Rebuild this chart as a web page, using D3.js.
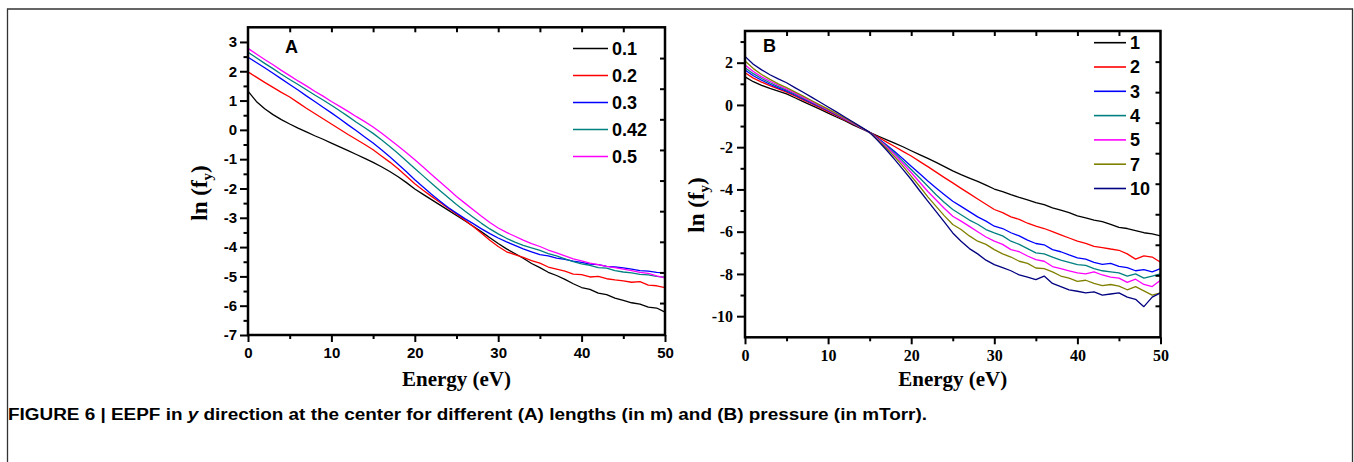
<!DOCTYPE html>
<html>
<head>
<meta charset="utf-8">
<script src="https://cdn.jsdelivr.net/npm/d3@7"></script>
<style>
  html, body { margin: 0; padding: 0; background: #fff; }
  svg { display: block; }
</style>
</head>
<body>
<svg id="chart" width="1354" height="462"></svg>
<script>
// energy grid, eV
const energy = d3.range(0, 51);

// (A) different lengths, m
const lengthNames = ["0.1", "0.2", "0.3", "0.42", "0.5"];
const lengthColors = ["#000000", "#ff0000", "#0000ff", "#008080", "#ff00ff"];
const lnA_01 = [1.32, 0.97, 0.72, 0.52, 0.35, 0.2, 0.06, -0.07, -0.2, -0.32, -0.45,
  -0.58, -0.71, -0.84, -0.97, -1.11, -1.26, -1.42, -1.6, -1.8, -2.02,
  -2.2, -2.38, -2.56, -2.74, -2.92, -3.1, -3.29, -3.48, -3.68, -3.88,
  -4.06, -4.22, -4.38, -4.56, -4.7, -4.86, -4.97, -5.1, -5.25, -5.38,
  -5.44, -5.57, -5.62, -5.74, -5.82, -5.9, -5.95, -6.05, -6.08, -6.22];
const lnA_02 = [1.98, 1.8, 1.62, 1.45, 1.28, 1.12, 0.93, 0.74, 0.56, 0.38, 0.2,
  0.02, -0.16, -0.33, -0.5, -0.68, -0.89, -1.1, -1.33, -1.58, -1.84,
  -2.06, -2.27, -2.47, -2.67, -2.87, -3.08, -3.3, -3.53, -3.77, -3.98,
  -4.16, -4.26, -4.35, -4.46, -4.55, -4.68, -4.75, -4.82, -4.92, -4.94,
  -5.02, -5.0, -5.08, -5.12, -5.15, -5.2, -5.18, -5.3, -5.32, -5.38];
const lnA_03 = [2.48, 2.3, 2.12, 1.93, 1.74, 1.55, 1.36, 1.16, 0.97, 0.77, 0.58,
  0.38, 0.17, -0.03, -0.24, -0.45, -0.68, -0.92, -1.17, -1.43, -1.7,
  -1.95, -2.2, -2.43, -2.65, -2.84, -3.03, -3.2, -3.38, -3.54, -3.69,
  -3.82, -3.94, -4.06, -4.16, -4.26, -4.3, -4.38, -4.42, -4.48, -4.52,
  -4.58, -4.6, -4.66, -4.68, -4.71, -4.75, -4.8, -4.82, -4.86, -4.88];
const lnA_042 = [2.65, 2.46, 2.27, 2.09, 1.9, 1.72, 1.55, 1.37, 1.19, 1.02, 0.84,
  0.65, 0.46, 0.26, 0.07, -0.12, -0.34, -0.57, -0.81, -1.06, -1.32,
  -1.57, -1.82, -2.07, -2.31, -2.55, -2.77, -2.98, -3.19, -3.38, -3.55,
  -3.7, -3.83, -3.94, -4.03, -4.11, -4.22, -4.3, -4.4, -4.5, -4.57,
  -4.62, -4.7, -4.72, -4.8, -4.85, -4.88, -4.93, -4.95, -5.0, -5.03];
const lnA_05 = [2.78, 2.59, 2.4, 2.22, 2.03, 1.85, 1.67, 1.5, 1.32, 1.15, 0.97,
  0.8, 0.63, 0.45, 0.28, 0.1, -0.11, -0.33, -0.55, -0.78, -1.02,
  -1.27, -1.52, -1.77, -2.02, -2.27, -2.5, -2.73, -2.95, -3.16, -3.35,
  -3.5, -3.63, -3.76, -3.88, -3.98, -4.1, -4.2, -4.3, -4.4, -4.47,
  -4.55, -4.6, -4.66, -4.7, -4.75, -4.8, -4.86, -4.9, -4.98, -5.05];

// (B) different pressures, mTorr
const pressureNames = ["1", "2", "3", "4", "5", "7", "10"];
const pressureColors = ["#000000", "#ff0000", "#0000ff", "#008080", "#ff00ff", "#808000", "#000080"];
const lnB_1 = [1.33, 1.1, 0.93, 0.78, 0.65, 0.52, 0.34, 0.16, -0.02, -0.2, -0.39,
  -0.57, -0.75, -0.94, -1.12, -1.3, -1.47, -1.64, -1.81, -1.98, -2.17,
  -2.35, -2.53, -2.72, -2.92, -3.12, -3.3, -3.46, -3.62, -3.8, -3.98,
  -4.1, -4.25, -4.38, -4.5, -4.62, -4.72, -4.87, -4.98, -5.1, -5.25,
  -5.35, -5.45, -5.52, -5.65, -5.8, -5.85, -5.95, -6.05, -6.1, -6.2];
const lnB_2 = [1.52, 1.27, 1.08, 0.91, 0.76, 0.61, 0.43, 0.24, 0.06, -0.13, -0.32,
  -0.51, -0.71, -0.9, -1.1, -1.3, -1.52, -1.75, -1.97, -2.2, -2.42,
  -2.67, -2.92, -3.18, -3.44, -3.69, -3.95, -4.2, -4.45, -4.7, -4.95,
  -5.1, -5.3, -5.42, -5.6, -5.74, -5.85, -6.0, -6.15, -6.3, -6.45,
  -6.55, -6.7, -6.75, -6.82, -6.88, -7.05, -7.3, -7.15, -7.2, -7.45];
const lnB_3 = [1.65, 1.38, 1.17, 0.98, 0.81, 0.65, 0.47, 0.28, 0.1, -0.08, -0.27,
  -0.47, -0.67, -0.88, -1.09, -1.3, -1.58, -1.88, -2.2, -2.55, -2.9,
  -3.25, -3.6, -3.93, -4.25, -4.56, -4.8, -5.05, -5.3, -5.5, -5.74,
  -5.85, -6.05, -6.2, -6.4, -6.56, -6.62, -6.85, -6.95, -7.1, -7.24,
  -7.3, -7.45, -7.55, -7.5, -7.64, -7.7, -7.85, -7.8, -7.9, -7.75];
const lnB_4 = [1.76, 1.48, 1.25, 1.05, 0.87, 0.7, 0.51, 0.32, 0.13, -0.06, -0.25,
  -0.45, -0.66, -0.87, -1.08, -1.3, -1.6, -1.92, -2.28, -2.66, -3.06,
  -3.45, -3.85, -4.25, -4.62, -4.95, -5.2, -5.45, -5.65, -5.9, -6.06,
  -6.2, -6.45, -6.6, -6.8, -7.0, -7.05, -7.2, -7.35, -7.45, -7.56,
  -7.6, -7.75, -7.85, -7.9, -7.95, -8.1, -8.0, -8.2, -8.1, -8.0];
const lnB_5 = [1.89, 1.58, 1.33, 1.12, 0.93, 0.75, 0.56, 0.36, 0.16, -0.04, -0.24,
  -0.44, -0.65, -0.86, -1.08, -1.3, -1.62, -1.97, -2.35, -2.77, -3.2,
  -3.65, -4.1, -4.5, -4.9, -5.27, -5.5, -5.75, -6.0, -6.25, -6.45,
  -6.6, -6.85, -6.95, -7.15, -7.32, -7.4, -7.65, -7.75, -7.85, -7.95,
  -8.0, -7.9, -8.05, -8.15, -8.2, -8.4, -8.25, -8.5, -8.6, -8.3];
const lnB_7 = [2.08, 1.72, 1.44, 1.21, 1.0, 0.82, 0.62, 0.42, 0.21, 0.0, -0.2,
  -0.41, -0.62, -0.84, -1.07, -1.3, -1.66, -2.04, -2.45, -2.9, -3.37,
  -3.85, -4.35, -4.8, -5.25, -5.66, -5.9, -6.2, -6.45, -6.6, -6.85,
  -7.05, -7.2, -7.4, -7.5, -7.72, -7.75, -7.9, -8.1, -8.2, -8.35,
  -8.3, -8.45, -8.55, -8.5, -8.58, -8.75, -8.6, -8.8, -9.0, -8.9];
const lnB_10 = [2.3, 1.93, 1.66, 1.43, 1.23, 1.05, 0.82, 0.6, 0.37, 0.14, -0.1,
  -0.33, -0.57, -0.81, -1.05, -1.3, -1.7, -2.12, -2.58, -3.05, -3.53,
  -4.05, -4.55, -5.05, -5.55, -6.06, -6.45, -6.8, -7.05, -7.35, -7.56,
  -7.7, -7.85, -8.05, -8.15, -8.27, -8.1, -8.45, -8.6, -8.75, -8.82,
  -8.9, -8.85, -9.0, -8.95, -8.9, -9.1, -9.2, -9.55, -9.1, -8.9];

// tick values
const energyTicks = [0, 10, 20, 30, 40, 50];
const energyMinor = [5, 15, 25, 35, 45];
const energyTop = [5, 10, 15, 20, 25, 30, 35, 40, 45];
const yTicksA = [-7, -6, -5, -4, -3, -2, -1, 0, 1, 2, 3];
const yMinorA = [-6.5, -5.5, -4.5, -3.5, -2.5, -1.5, -0.5, 0.5, 1.5, 2.5];
const yTicksB = [-10, -8, -6, -4, -2, 0, 2];
const yMinorB = [-9, -7, -5, -3, -1, 1, 3];

const svg = d3.select('#chart');
const SANS = '"Liberation Sans", Arial, sans-serif';
const SERIF = '"Liberation Serif", "Times New Roman", serif';

// outer figure frame
svg.append('path')
    .attr('d', 'M7.5,462 V9 H1352.5 V462')
    .attr('fill', 'none')
    .attr('stroke', '#333')
    .attr('stroke-width', 1.3);

function drawPanel(p) {
    const x = d3.scaleLinear().domain([0, 50]).range([p.left, p.right]);
    const y = d3.scaleLinear().domain(p.yDomain).range([p.bottom, p.top]);
    const g = svg.append('g');

    // curves
    const line = d3.line().x((d, i) => x(energy[i])).y(d => y(d));
    p.series.forEach((s, i) => {
        g.append('path')
            .attr('d', line(s))
            .attr('fill', 'none')
            .attr('stroke', p.colors[i])
            .attr('stroke-width', 1.3)
            .attr('stroke-linejoin', 'round');
    });

    // axes
    const fmt = d => String(d);
    const axes = [
        [d3.axisLeft(y).tickValues(p.yTicks).tickSize(8).tickPadding(p.yPad).tickFormat(fmt), `translate(${p.left},0)`],
        [d3.axisLeft(y).tickValues(p.yMinor).tickSize(4.5).tickFormat(''), `translate(${p.left},0)`],
        [d3.axisBottom(x).tickValues(energyTicks).tickSize(7).tickPadding(5).tickFormat(fmt), `translate(0,${p.bottom})`],
        [d3.axisBottom(x).tickValues(energyMinor).tickSize(4).tickFormat(''), `translate(0,${p.bottom})`],
        [d3.axisTop(x).tickValues(energyTop).tickSize(-5).tickFormat(''), `translate(0,${p.top})`],
        [d3.axisRight(y).tickValues(p.rightTicks).tickSize(-5).tickFormat(''), `translate(${p.right},0)`]
    ];
    axes.forEach(([ax, tr]) => {
        const a = g.append('g').attr('transform', tr).call(ax);
        a.select('.domain').remove();
        a.selectAll('line').attr('stroke', '#000').attr('stroke-width', 2);
        a.selectAll('text')
            .attr('fill', '#000')
            .style('font-family', p.tickFont)
            .style('font-weight', 'bold')
            .style('font-size', p.tickSize + 'px');
    });

    // plot frame
    g.append('rect')
        .attr('x', p.left).attr('y', p.top)
        .attr('width', p.right - p.left).attr('height', p.bottom - p.top)
        .attr('fill', 'none').attr('stroke', '#000').attr('stroke-width', 2.5);

    // axis titles
    g.append('text')
        .attr('x', (p.left + p.right) / 2).attr('y', 386)
        .attr('text-anchor', 'middle')
        .style('font-family', SERIF).style('font-weight', 'bold').style('font-size', '21px')
        .text('Energy (eV)');

    const yt = g.append('text')
        .attr('transform', `translate(${p.yTitleX},${p.yTitleY}) rotate(-90)`)
        .attr('text-anchor', 'middle')
        .style('font-family', SERIF).style('font-weight', 'bold').style('font-size', '23px');
    yt.append('tspan').text('ln (f');
    yt.append('tspan').attr('dy', 5).style('font-size', '15px').text('y');
    yt.append('tspan').attr('dy', -5).text(')');

    // panel letter
    g.append('text')
        .attr('x', p.letterX).attr('y', p.letterY)
        .style('font-family', SANS).style('font-weight', 'bold').style('font-size', '18px')
        .text(p.letter);

    // legend
    p.names.forEach((n, i) => {
        const ly = p.legY + i * p.legStep;
        g.append('line')
            .attr('x1', p.legX).attr('x2', p.legX + p.legLen)
            .attr('y1', ly).attr('y2', ly)
            .attr('stroke', p.colors[i]).attr('stroke-width', 1.6);
        g.append('text')
            .attr('x', p.legX + p.legLen + 4).attr('y', ly).attr('dy', '0.36em')
            .style('font-family', SANS).style('font-weight', 'bold').style('font-size', '18px')
            .text(n);
    });
}

drawPanel({
    left: 248, right: 665, top: 27.3, bottom: 335,
    yDomain: [-7, 3.5],
    yTicks: yTicksA, yMinor: yMinorA, yPad: 3,
    rightTicks: d3.range(2.45, -6.5, -1.045),
    tickFont: SANS, tickSize: 15,
    series: [lnA_01, lnA_02, lnA_03, lnA_042, lnA_05],
    colors: lengthColors, names: lengthNames,
    yTitleX: 207, yTitleY: 193,
    letter: 'A', letterX: 285, letterY: 53,
    legX: 573, legLen: 35, legY: 48.5, legStep: 27
});

drawPanel({
    left: 745, right: 1160.5, top: 31, bottom: 337.3,
    yDomain: [-11, 3.5],
    yTicks: yTicksB, yMinor: yMinorB, yPad: 4,
    rightTicks: d3.range(2.05, -10.5, -1.445),
    tickFont: SERIF, tickSize: 16,
    series: [lnB_1, lnB_2, lnB_3, lnB_4, lnB_5, lnB_7, lnB_10],
    colors: pressureColors, names: pressureNames,
    yTitleX: 704, yTitleY: 205,
    letter: 'B', letterX: 763, letterY: 52,
    legX: 1094, legLen: 32, legY: 42.7, legStep: 24.3
});

// caption
const cap = svg.append('text')
    .attr('x', 8).attr('y', 420)
    .attr('textLength', 919).attr('lengthAdjust', 'spacingAndGlyphs')
    .style('font-family', SANS).style('font-weight', 'bold').style('font-size', '16px');
cap.append('tspan').text('FIGURE 6 | EEPF in ');
cap.append('tspan').style('font-style', 'italic').text('y');
cap.append('tspan').text(' direction at the center for different (A) lengths (in m) and (B) pressure (in mTorr).');
</script>
</body>
</html>
